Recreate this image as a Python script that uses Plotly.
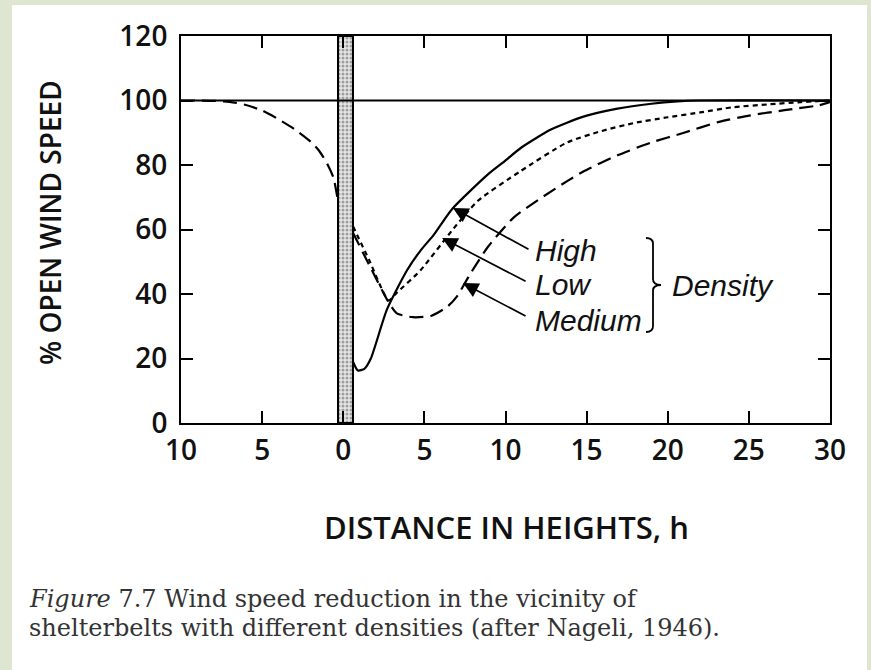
import plotly.graph_objects as go

# ---------------- data ----------------
x_ticks = [-10, -5, 0, 5, 10, 15, 20, 25, 30]
x_tick_text = ["10", "5", "0", "5", "10", "15", "20", "25", "30"]
y_ticks = [0, 20, 40, 60, 80, 100, 120]
y_tick_text = ["0", "20", "40", "60", "80", "100", "120"]

# windward side (drawn dashed, shared by all densities)
upstream_x = [-10, -9, -8, -7, -6, -5, -4, -3, -2, -1.5, -1, -0.6, -0.3]
upstream_y = [100, 100, 99.9, 99.6, 98.6, 96.9, 94.2, 91.1, 87.2, 84.5, 80.5, 76, 68]

high_x = [0.6, 0.9, 1.3, 1.7, 2.7, 3.95, 4.75, 5.6, 6.7, 8.9, 9.9, 11.0, 12.8, 14.8, 16.9, 19, 20.6, 22, 30]
high_y = [19, 16.3, 16.8, 20, 35.3, 47.5, 53.4, 58.5, 66.3, 77, 81, 85.5, 91, 95, 97.5, 99, 99.7, 100, 100]

low_x = [0.6, 1.6, 2.8, 3.3, 4.75, 6.8, 8.3, 10.9, 13.8, 15.9, 17.9, 20, 22, 24, 26.2, 28.2, 30]
low_y = [61, 50.5, 38, 40.4, 47.3, 60.3, 68.9, 78, 87, 90.5, 93, 94.8, 96.3, 97.9, 98.8, 99.5, 100]

medium_x = [0.6, 1.6, 2.8, 3.3, 4.3, 5.4, 6.4, 7.0, 7.8, 8.9, 10.5, 12.2, 13.8, 14.8, 16.9, 19, 21, 23.1, 25.1, 27.2, 29.3, 30]
medium_y = [59, 49, 37.4, 34, 32.8, 33.2, 36, 39.2, 46, 54.5, 63.7, 69.8, 75, 78, 83, 87, 90, 93.3, 95.4, 97, 98.5, 99.5]

open_wind = 100

shelter_center = [0.15]
shelter_width = [0.9]
shelter_height = [120]

series_labels = ["High", "Low", "Medium"]
# arrow tip (on curve) and tail (near label), data coordinates
arrow_tip_x = [6.76, 6.09, 7.38]
arrow_tip_y = [66.7, 57.4, 43.4]
arrow_tail_x = [11.51, 11.33, 11.33]
arrow_tail_y = [53.6, 43.7, 32.9]
label_x = [11.7, 11.7, 11.7]
label_y = [53.6, 42.8, 31.9]

caption_lines = ["<i>Figure</i> 7.7 Wind speed reduction in the vicinity of",
                 "shelterbelts with different densities (after Nageli, 1946)."]

# ---------------- layout geometry ----------------
W, H = 871, 670
L, R, T, B = 181, 830, 36, 423


def px(xp):
    return (xp - L) / (R - L)


def py(yp):
    return (B - yp) / (B - T)


fig = go.Figure()

fig.add_trace(go.Bar(
    x=shelter_center, y=shelter_height, width=shelter_width,
    marker=dict(color="white",
                pattern=dict(shape=".", fgcolor="#555", bgcolor="#e6e6e6", size=4, solidity=0.45),
                line=dict(color="black", width=2)),
    showlegend=False, hoverinfo="skip"))

line_w = 2.2
fig.add_trace(go.Scatter(x=upstream_x + [None] + medium_x, y=upstream_y + [None] + medium_y,
                         mode="lines", name="Medium",
                         line=dict(color="black", width=line_w, dash="14px,7px", shape="spline", smoothing=0.6),
                         connectgaps=False, showlegend=False))
fig.add_trace(go.Scatter(x=low_x, y=low_y, mode="lines", name="Low",
                         line=dict(color="black", width=line_w, dash="5px,4px", shape="spline", smoothing=0.6),
                         showlegend=False))
fig.add_trace(go.Scatter(x=high_x, y=high_y, mode="lines", name="High",
                         line=dict(color="black", width=line_w, shape="spline", smoothing=0.6),
                         showlegend=False))

fig.add_hline(y=open_wind, line=dict(color="black", width=1.8))

tick_font = dict(family="Open Sans", size=28, color="#111", weight=600)

fig.update_xaxes(range=[x_ticks[0], x_ticks[-1]], tickvals=x_ticks, ticktext=x_tick_text,
                 showline=True, linecolor="black", linewidth=2, mirror="ticks",
                 ticks="inside", ticklen=12, tickwidth=2, tickcolor="black",
                 showgrid=False, zeroline=False, tickfont=tick_font, ticklabelstandoff=1)
fig.update_yaxes(range=[y_ticks[0], y_ticks[-1]], tickvals=y_ticks, ticktext=y_tick_text,
                 showline=True, linecolor="black", linewidth=2, mirror="ticks",
                 ticks="inside", ticklen=12, tickwidth=2, tickcolor="black",
                 showgrid=False, zeroline=False, tickfont=tick_font, ticklabelstandoff=6)

label_font = dict(family="Liberation Sans", size=30, color="#111", style="italic")
annotations = []
for lab, tx, ty, ax_, ay_, lx, ly in zip(series_labels, arrow_tip_x, arrow_tip_y,
                                          arrow_tail_x, arrow_tail_y, label_x, label_y):
    annotations.append(dict(x=tx, y=ty, ax=ax_, ay=ay_, xref="x", yref="y", axref="x", ayref="y",
                            text="", showarrow=True, arrowhead=2, arrowsize=1.8, arrowwidth=1.7,
                            arrowcolor="black", standoff=0))
    annotations.append(dict(x=lx, y=ly, xref="x", yref="y", text=lab, showarrow=False,
                            xanchor="left", yanchor="middle", font=label_font))

annotations.append(dict(x=px(670), y=py(285), xref="paper", yref="paper", text="Density",
                        showarrow=False, xanchor="left", yanchor="middle", font=label_font))

annotations.append(dict(x=px(50), y=py(223), xref="paper", yref="paper", text="% OPEN WIND SPEED",
                        showarrow=False, textangle=-90, xanchor="center", yanchor="middle",
                        font=dict(family="Open Sans", size=28, color="#111", weight=600)))
annotations.append(dict(x=px(506), y=py(527), xref="paper", yref="paper", text="DISTANCE IN HEIGHTS, h",
                        showarrow=False, xanchor="center", yanchor="middle",
                        font=dict(family="Open Sans", size=31, color="#111", weight=600)))
for i, line in enumerate(caption_lines):
    annotations.append(dict(x=px(28), y=py(599 + 29 * i), xref="paper", yref="paper", text=line,
                            showarrow=False, xanchor="left", yanchor="middle", align="left",
                            borderpad=0,
                            font=dict(family="DejaVu Serif", size=24, color="#333")))

# curly brace "}" (decoration)
bx0, bx1, bx2 = px(646), px(653), px(661)
by_top, by_mid, by_bot = py(238), py(285), py(332)
dy = (by_top - by_mid)
brace = (f"M {bx0},{by_top} Q {bx1},{by_top} {bx1},{by_top - 0.12*dy} "
         f"L {bx1},{by_mid + 0.12*dy} Q {bx1},{by_mid} {bx2},{by_mid} "
         f"Q {bx1},{by_mid} {bx1},{by_mid - 0.12*dy} "
         f"L {bx1},{by_bot + 0.12*dy} Q {bx1},{by_bot} {bx0},{by_bot}")

shapes = [
    dict(type="rect", xref="paper", yref="paper", x0=px(12), x1=px(867), y0=py(670), y1=py(5),
         fillcolor="white", line=dict(width=0), layer="below"),
    dict(type="path", xref="paper", yref="paper", path=brace, line=dict(color="black", width=1.8)),
]

fig.update_layout(width=W, height=H, autosize=False,
                  margin=dict(l=L, r=W - R, t=T, b=H - B),
                  paper_bgcolor="#dee5d0", plot_bgcolor="white",
                  showlegend=False, annotations=annotations, shapes=list(fig.layout.shapes) + shapes,
                  bargap=0)

fig.write_html("out.html", config={"displayModeBar": False},
               post_script="document.body.style.margin='0';document.body.style.overflow='hidden';")
